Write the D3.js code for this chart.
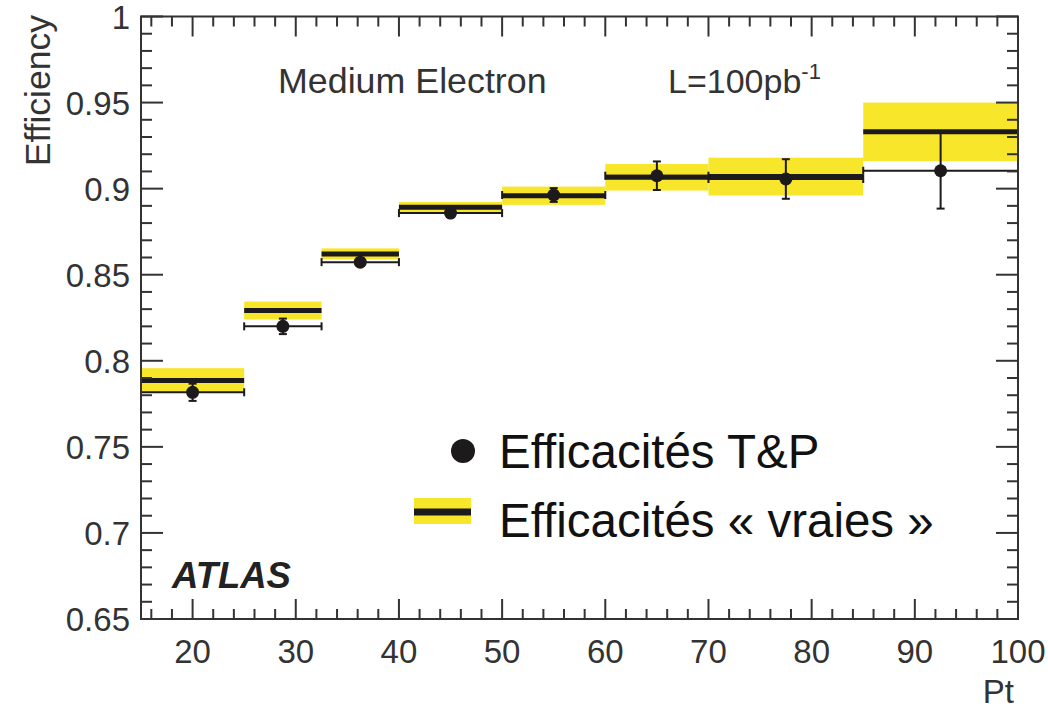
<!DOCTYPE html>
<html><head><meta charset="utf-8">
<script src="https://cdn.jsdelivr.net/npm/d3@7"></script>
<style>body{margin:0;background:#fff}svg{display:block}</style>
</head><body>
<svg id="c" width="1048" height="709"></svg>
<script>
// ---- data ----
const binLo   = [15, 25, 32.5, 40, 50, 60, 70, 85];
const binHi   = [25, 32.5, 40, 50, 60, 70, 85, 100];
const trueEff = [0.7885, 0.8292, 0.8621, 0.8892, 0.8959, 0.9066, 0.9070, 0.9330];
const trueErr = [0.0072, 0.0052, 0.0032, 0.0030, 0.0053, 0.0077, 0.0110, 0.0170];
const tpX     = [20, 28.75, 36.25, 45, 55, 65, 77.5, 92.5];
const tpEff   = [0.7817, 0.8200, 0.8573, 0.8858, 0.8963, 0.9075, 0.9056, 0.9104];
const tpErr   = [0.0050, 0.0045, 0.0020, 0.0015, 0.0040, 0.0083, 0.0115, 0.0220];
const xTicks  = [20, 30, 40, 50, 60, 70, 80, 90, 100];
const yTicks  = [0.65, 0.7, 0.75, 0.8, 0.85, 0.9, 0.95, 1];
const yTickLabels = ["0.65", "0.7", "0.75", "0.8", "0.85", "0.9", "0.95", "1"];
const legendLabels = ["Efficacités T\u0026P", "Efficacités « vraies »"];

const svg = d3.select("#c");
const L = 141, R = 1018, T = 16.5, B = 619;
const x = d3.scaleLinear().domain([15, 100]).range([L, R]);
const y = d3.scaleLinear().domain([0.65, 1]).range([B, T]);
const axisCol = "#333", yellow = "#f8e62a", ink = "#1c1a1b";
const tickFont = "Liberation Sans, Arial, sans-serif";

// ---- data marks ----
const bins = binLo.map((lo, i) => ({lo, hi: binHi[i], v: trueEff[i], e: trueErr[i], px: tpX[i], pv: tpEff[i], pe: tpErr[i]}));

svg.append("g").selectAll("rect").data(bins).join("rect")
  .attr("x", d => x(d.lo)).attr("width", d => x(d.hi) - x(d.lo))
  .attr("y", d => y(d.v + d.e)).attr("height", d => y(d.v - d.e) - y(d.v + d.e))
  .attr("fill", yellow);

// T&P error bars
const eb = svg.append("g").attr("stroke", ink).attr("stroke-width", 2).attr("fill", "none");
bins.forEach(d => {
  eb.append("line").attr("x1", x(d.lo)).attr("x2", x(d.hi)).attr("y1", y(d.pv)).attr("y2", y(d.pv));
  [d.lo, d.hi].forEach(v => eb.append("line").attr("x1", x(v)).attr("x2", x(v)).attr("y1", y(d.pv) - 4).attr("y2", y(d.pv) + 4));
  eb.append("line").attr("x1", x(d.px)).attr("x2", x(d.px)).attr("y1", y(d.pv + d.pe)).attr("y2", y(d.pv - d.pe));
  [d.pv + d.pe, d.pv - d.pe].forEach(v => eb.append("line").attr("x1", x(d.px) - 4).attr("x2", x(d.px) + 4).attr("y1", y(v)).attr("y2", y(v)));
});

// true lines
svg.append("g").selectAll("line").data(bins).join("line")
  .attr("x1", d => x(d.lo)).attr("x2", d => x(d.hi))
  .attr("y1", d => y(d.v)).attr("y2", d => y(d.v))
  .attr("stroke", ink).attr("stroke-width", 5);

// points
svg.append("g").selectAll("circle").data(bins).join("circle")
  .attr("cx", d => x(d.px)).attr("cy", d => y(d.pv)).attr("r", 6.5).attr("fill", ink);

// ---- frame & ticks ----
const fr = svg.append("g").attr("stroke", axisCol).attr("stroke-width", 2).attr("fill", "none");
fr.append("rect").attr("x", L).attr("y", T).attr("width", R - L).attr("height", B - T);
const xMinor = d3.range(16, 100, 2).filter(v => v % 10 !== 0);
xMinor.forEach(v => {
  fr.append("line").attr("x1", x(v)).attr("x2", x(v)).attr("y1", B).attr("y2", B - 10);
  fr.append("line").attr("x1", x(v)).attr("x2", x(v)).attr("y1", T).attr("y2", T + 10);
});
xTicks.forEach(v => {
  fr.append("line").attr("x1", x(v)).attr("x2", x(v)).attr("y1", B).attr("y2", B - 20);
  fr.append("line").attr("x1", x(v)).attr("x2", x(v)).attr("y1", T).attr("y2", T + 20);
});
const yMinor = d3.range(66, 100, 1).filter(v => v % 5 !== 0).map(v => v / 100);
yMinor.forEach(v => {
  fr.append("line").attr("x1", L).attr("x2", L + 11).attr("y1", y(v)).attr("y2", y(v));
  fr.append("line").attr("x1", R).attr("x2", R - 11).attr("y1", y(v)).attr("y2", y(v));
});
yTicks.forEach(v => {
  fr.append("line").attr("x1", L).attr("x2", L + 22).attr("y1", y(v)).attr("y2", y(v));
  fr.append("line").attr("x1", R).attr("x2", R - 22).attr("y1", y(v)).attr("y2", y(v));
});

// tick labels
svg.append("g").selectAll("text").data(xTicks).join("text")
  .attr("x", d => x(d)).attr("y", 663).attr("text-anchor", "middle")
  .attr("font-family", tickFont).attr("font-size", 33).attr("fill", axisCol)
  .text(d => d);
svg.append("g").selectAll("text").data(yTicks).join("text")
  .attr("x", 130).attr("y", d => y(d) + 12).attr("text-anchor", "end")
  .attr("font-family", tickFont).attr("font-size", 33).attr("fill", axisCol)
  .text((d, i) => yTickLabels[i]);

// axis titles
svg.append("text").attr("transform", "translate(50,15) rotate(-90)").attr("text-anchor", "end")
  .attr("font-family", tickFont).attr("font-size", 35.5).attr("fill", axisCol).text("Efficiency");
svg.append("text").attr("x", 1014).attr("y", 703).attr("text-anchor", "end")
  .attr("font-family", tickFont).attr("font-size", 33).attr("fill", axisCol).text("Pt");

// annotations
svg.append("text").attr("x", 278).attr("y", 93)
  .attr("font-family", tickFont).attr("font-size", 35.8).attr("fill", axisCol).text("Medium Electron");
const lt = svg.append("text").attr("x", 668).attr("y", 93)
  .attr("font-family", tickFont).attr("font-size", 34).attr("fill", axisCol);
lt.append("tspan").text("L=100pb");
lt.append("tspan").attr("font-size", 22).attr("dy", -14).text("-1");
svg.append("text").attr("x", 172).attr("y", 588)
  .attr("font-family", tickFont).attr("font-size", 36.5).attr("font-weight", "bold").attr("font-style", "italic")
  .attr("fill", "#222").text("ATLAS");

// legend
const lg = svg.append("g");
lg.append("circle").attr("cx", 463).attr("cy", 451).attr("r", 12).attr("fill", ink);
lg.append("rect").attr("x", 414).attr("y", 498).attr("width", 57).attr("height", 26).attr("fill", yellow);
lg.append("line").attr("x1", 414).attr("x2", 471).attr("y1", 512).attr("y2", 512).attr("stroke", ink).attr("stroke-width", 7);
lg.append("text").attr("x", 499).attr("y", 468).attr("font-family", tickFont).attr("font-size", 47.5).attr("fill", "#111").text(legendLabels[0]);
lg.append("text").attr("x", 499).attr("y", 537).attr("font-family", tickFont).attr("font-size", 47.5).attr("fill", "#111").text(legendLabels[1]);
</script>
</body></html>
